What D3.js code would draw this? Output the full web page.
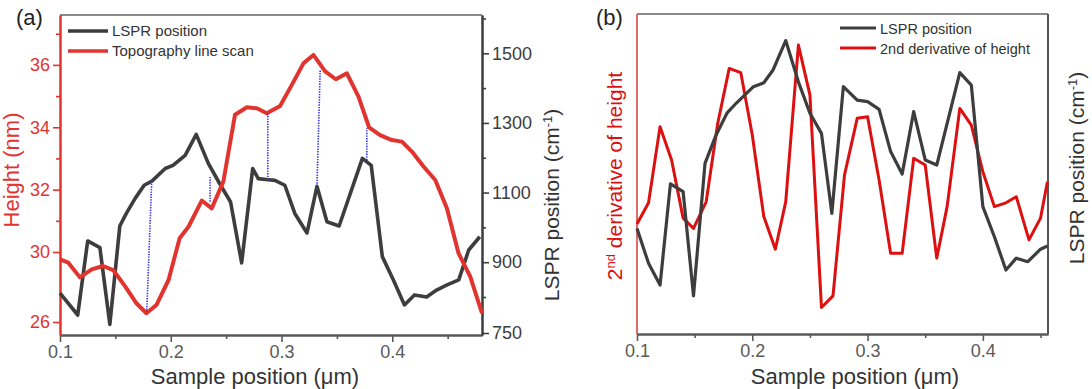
<!DOCTYPE html>
<html>
<head>
<meta charset="utf-8">
<script src="https://cdn.jsdelivr.net/npm/d3@7"></script>
<style>
  body { margin: 0; background: #fff; }
  svg { display: block; }
  text { font-family: "Liberation Sans", Arial, sans-serif; }
</style>
</head>
<body>
<div id="chart"></div>
<script>
// ---- panel (a): LSPR position vs topography ----
const posLsprA = [0.100, 0.116, 0.125, 0.136, 0.145, 0.154, 0.160, 0.168, 0.176, 0.183,
                  0.195, 0.202, 0.213, 0.223, 0.234, 0.245, 0.254, 0.264, 0.274, 0.279,
                  0.288, 0.294, 0.303, 0.312, 0.323, 0.332, 0.341, 0.352, 0.373, 0.381,
                  0.391, 0.401, 0.411, 0.420, 0.431, 0.440, 0.449, 0.460, 0.469, 0.479];
const lsprA = [811, 775, 961, 942, 762, 1004, 1041, 1084, 1121, 1133,
               1169, 1178, 1207, 1267, 1183, 1121, 1073, 898, 1169, 1140,
               1137, 1135, 1121, 1040, 984, 1118, 1016, 1004, 1198, 1178,
               916, 849, 789, 806, 800, 820, 834, 849, 935, 973];
const posHeightA = [0.100, 0.1075, 0.118, 0.1286, 0.139, 0.148, 0.159, 0.169, 0.178, 0.187,
                    0.198, 0.208, 0.216, 0.228, 0.237, 0.2475, 0.258, 0.2687, 0.2777, 0.2867,
                    0.2987, 0.3093, 0.3198, 0.3288, 0.3394, 0.349, 0.359, 0.3695, 0.379, 0.389,
                    0.3996, 0.4087, 0.4177, 0.4282, 0.4388, 0.4493, 0.4598, 0.4704, 0.481];
const heightA = [29.58, 29.39, 28.55, 29.01, 29.2, 28.97, 28.02, 27.07, 26.50, 26.97,
                 28.4, 30.44, 30.81, 31.65, 31.40, 32.26, 34.40, 34.64, 34.61, 34.45,
                 34.68, 35.36, 36.05, 36.32, 35.79, 35.54, 35.73, 34.98, 34.0, 33.75,
                 33.59, 33.54, 33.22, 32.74, 32.31, 31.40, 29.93, 28.59, 26.50];
// dotted guides: [x at LSPR end, LSPR, x at height end, height]
const guidesA = [[0.1828, 1133, 0.1783, 26.57],
                 [0.2355, 1145, 0.2355, 31.6],
                 [0.2876, 1137, 0.2876, 34.45],
                 [0.332, 1118, 0.3349, 35.84],
                 [0.377, 1193, 0.377, 33.97]];
const heightTicks = [26, 30, 32, 34, 36];
const heightMinor = [31, 33, 35, 37];
const lsprTicks = [750, 900, 1100, 1300, 1500];
const lsprMinor = [800, 1000, 1200, 1400, 1600];
const posTicks = [0.1, 0.2, 0.3, 0.4];
const posMinor = [0.15, 0.25, 0.35, 0.45];

// ---- panel (b): LSPR position vs 2nd derivative (arbitrary units) ----
const posLsprB = [0.100, 0.110, 0.120, 0.129, 0.140, 0.149, 0.159, 0.168, 0.178, 0.186,
                  0.201, 0.210, 0.218, 0.229, 0.240, 0.250, 0.260, 0.269, 0.279, 0.291,
                  0.300, 0.310, 0.320, 0.330, 0.340, 0.350, 0.360, 0.380, 0.390, 0.400,
                  0.410, 0.420, 0.429, 0.439, 0.450, 0.456];
const lsprB = [33.0, 22.1, 15.3, 46.9, 44.5, 11.9, 53.3, 61.7, 69.0, 72.1,
               77.3, 78.5, 82.5, 91.7, 78.8, 69.0, 62.7, 37.7, 77.3, 73.1,
               72.6, 70.2, 57.0, 50.0, 69.5, 54.4, 52.8, 81.7, 77.8, 39.8,
               30.4, 20.0, 23.7, 22.6, 26.5, 27.5];
const posDerivB = [0.100, 0.110, 0.120, 0.130, 0.140, 0.149, 0.160, 0.170, 0.180, 0.190,
                   0.200, 0.210, 0.220, 0.229, 0.240, 0.250, 0.260, 0.270, 0.280, 0.291,
                   0.300, 0.310, 0.320, 0.330, 0.340, 0.350, 0.360, 0.369, 0.380, 0.390,
                   0.400, 0.410, 0.420, 0.429, 0.440, 0.450, 0.456];
const derivB = [34.4, 41.0, 64.8, 54.4, 36.2, 33.0, 41.3, 65.8, 83.0, 81.7,
                62.2, 36.7, 26.5, 41.3, 90.3, 74.7, 8.3, 11.9, 49.7, 67.4,
                67.9, 48.1, 25.2, 25.2, 54.9, 52.8, 23.7, 39.8, 70.5, 65.3,
                50.7, 39.8, 41.0, 42.9, 29.4, 36.2, 47.6];

const W = 1092, H = 389;
const RED_A = "#e2342f", RED_B = "#dc1010", DARK = "#3d3d3d", BLUE = "#3434f0";

const svg = d3.select("#chart").append("svg")
    .attr("width", W).attr("height", H);

// panel boxes (pixel frame of each plot)
const boxA = {left: 60, right: 482, top: 15, bottom: 335};
const boxB = {left: 637, right: 1048, top: 14, bottom: 334};

// scales for (a); the printed axes are not evenly spaced near the bottom
const xA = d3.scaleLinear().domain([0.1, 0.481]).range([boxA.left, boxA.right]);
const yHeight = d3.scaleLinear().domain([25.26, 26, 30, 37.6])
    .range([boxA.bottom, 322, 252, boxA.top]);
const yLspr = d3.scaleLinear().domain([747, 750, 800, 1610])
    .range([boxA.bottom, 333, 297, boxA.top]);

// scales for (b)
const xB = d3.scaleLinear().domain([0.1, 0.4565]).range([boxB.left, boxB.right]);
const yB = d3.scaleLinear().domain([0, 100]).range([boxB.bottom, boxB.top]);

function styleAxis(g, color, width, fontSize) {
    g.select(".domain").attr("stroke", color).attr("stroke-width", width);
    g.selectAll(".tick line").attr("stroke", color).attr("stroke-width", 1.6);
    g.selectAll(".tick text").attr("fill", color)
        .style("font-size", fontSize + "px")
        .style("font-family", "'Liberation Sans', Arial, sans-serif");
}

function drawAxis(axisFn, scale, major, minor, transform, color, width, showLabels) {
    const gm = svg.append("g").attr("transform", transform)
        .call(axisFn(scale).tickValues(minor).tickFormat("").tickSize(4).tickSizeOuter(0));
    styleAxis(gm, color, width, 18);
    const ax = axisFn(scale).tickValues(major).tickSize(7).tickPadding(3).tickSizeOuter(0);
    ax.tickFormat(showLabels ? (d => String(d)) : "");
    const g = svg.append("g").attr("transform", transform).call(ax);
    styleAxis(g, color, width, 18);
    return g;
}

// ---------- panel (a) ----------
// top frame
svg.append("line")
    .attr("x1", boxA.left).attr("x2", boxA.right)
    .attr("y1", boxA.top).attr("y2", boxA.top)
    .attr("stroke", "#8a8a8a").attr("stroke-width", 2);

drawAxis(d3.axisBottom, xA, posTicks, posMinor, "translate(0," + boxA.bottom + ")", "#5a5a5a", 2, true);
drawAxis(d3.axisRight, yLspr, lsprTicks, lsprMinor, "translate(" + boxA.right + ",0)", DARK, 2, true);
drawAxis(d3.axisLeft, yHeight, heightTicks, heightMinor, "translate(" + boxA.left + ",0)", RED_A, 2, true);

const lineLsprA = d3.line().x(d => xA(d[0])).y(d => yLspr(d[1]));
const lineHeightA = d3.line().x(d => xA(d[0])).y(d => yHeight(d[1]));

svg.append("path")
    .datum(d3.zip(posLsprA, lsprA))
    .attr("d", lineLsprA)
    .attr("fill", "none").attr("stroke", DARK)
    .attr("stroke-width", 3.6).attr("stroke-linejoin", "round");

svg.append("path")
    .datum(d3.zip(posHeightA, heightA))
    .attr("d", lineHeightA)
    .attr("fill", "none").attr("stroke", RED_A)
    .attr("stroke-width", 4).attr("stroke-linejoin", "round");

svg.append("g").selectAll("line")
    .data(guidesA)
    .enter().append("line")
    .attr("x1", d => xA(d[0])).attr("y1", d => yLspr(d[1]))
    .attr("x2", d => xA(d[2])).attr("y2", d => yHeight(d[3]))
    .attr("stroke", BLUE).attr("stroke-width", 1.6)
    .attr("stroke-dasharray", "1.4,1.2");

// legend (a)
const legA = [["LSPR position", DARK], ["Topography line scan", RED_A]];
legA.forEach(function (l, i) {
    svg.append("line")
        .attr("x1", 68).attr("x2", 108)
        .attr("y1", 31 + i * 20).attr("y2", 31 + i * 20)
        .attr("stroke", l[1]).attr("stroke-width", 3.4);
    svg.append("text")
        .attr("x", 112).attr("y", 36 + i * 20)
        .attr("fill", "#333").style("font-size", "15px")
        .text(l[0]);
});

svg.append("text").attr("x", 16).attr("y", 25)
    .attr("fill", "#222").style("font-size", "22px").text("(a)");

svg.append("text")
    .attr("transform", "translate(19,170) rotate(-90)")
    .attr("text-anchor", "middle")
    .attr("fill", RED_A).style("font-size", "22px")
    .text("Height (nm)");

const rlabA = svg.append("text")
    .attr("transform", "translate(559,205) rotate(-90)")
    .attr("text-anchor", "middle")
    .attr("fill", "#333").style("font-size", "21px");
rlabA.append("tspan").text("LSPR position (cm");
rlabA.append("tspan").attr("baseline-shift", "super").style("font-size", "13px").text("-1");
rlabA.append("tspan").text(")");

svg.append("text")
    .attr("x", 255).attr("y", 384)
    .attr("text-anchor", "middle")
    .attr("fill", "#333").style("font-size", "22px")
    .text("Sample position (μm)");

// ---------- panel (b) ----------
svg.append("line")
    .attr("x1", boxB.left).attr("x2", boxB.right)
    .attr("y1", boxB.top).attr("y2", boxB.top)
    .attr("stroke", "#8a8a8a").attr("stroke-width", 2);

drawAxis(d3.axisBottom, xB, posTicks, posMinor, "translate(0," + boxB.bottom + ")", "#5a5a5a", 2, true);

svg.append("line")
    .attr("x1", boxB.right).attr("x2", boxB.right)
    .attr("y1", boxB.top).attr("y2", boxB.bottom)
    .attr("stroke", "#555").attr("stroke-width", 2);
svg.append("line")
    .attr("x1", boxB.left).attr("x2", boxB.left)
    .attr("y1", boxB.top).attr("y2", boxB.bottom)
    .attr("stroke", "#e05a5a").attr("stroke-width", 1.8);

const lineB1 = d3.line().x(d => xB(d[0])).y(d => yB(d[1]));

svg.append("path")
    .datum(d3.zip(posDerivB, derivB))
    .attr("d", lineB1)
    .attr("fill", "none").attr("stroke", RED_B)
    .attr("stroke-width", 3).attr("stroke-linejoin", "round");

svg.append("path")
    .datum(d3.zip(posLsprB, lsprB))
    .attr("d", lineB1)
    .attr("fill", "none").attr("stroke", DARK)
    .attr("stroke-width", 3.2).attr("stroke-linejoin", "round");

const legB = [["LSPR position", DARK], ["2nd derivative of height", RED_B]];
legB.forEach(function (l, i) {
    svg.append("line")
        .attr("x1", 840).attr("x2", 876)
        .attr("y1", 28 + i * 20).attr("y2", 28 + i * 20)
        .attr("stroke", l[1]).attr("stroke-width", 3);
    svg.append("text")
        .attr("x", 880).attr("y", 34 + i * 20)
        .attr("fill", "#333").style("font-size", "14.5px")
        .text(l[0]);
});

svg.append("text").attr("x", 596).attr("y", 25)
    .attr("fill", "#222").style("font-size", "22px").text("(b)");

const llabB = svg.append("text")
    .attr("transform", "translate(622,176) rotate(-90)")
    .attr("text-anchor", "middle")
    .attr("fill", RED_B).style("font-size", "21px");
llabB.append("tspan").text("2");
llabB.append("tspan").attr("baseline-shift", "super").style("font-size", "13px").text("nd");
llabB.append("tspan").text(" derivative of height");

const rlabB = svg.append("text")
    .attr("transform", "translate(1084,168) rotate(-90)")
    .attr("text-anchor", "middle")
    .attr("fill", "#333").style("font-size", "21px");
rlabB.append("tspan").text("LSPR position (cm");
rlabB.append("tspan").attr("baseline-shift", "super").style("font-size", "13px").text("-1");
rlabB.append("tspan").text(")");

svg.append("text")
    .attr("x", 855).attr("y", 384)
    .attr("text-anchor", "middle")
    .attr("fill", "#333").style("font-size", "22px")
    .text("Sample position (μm)");
</script>
</body>
</html>
